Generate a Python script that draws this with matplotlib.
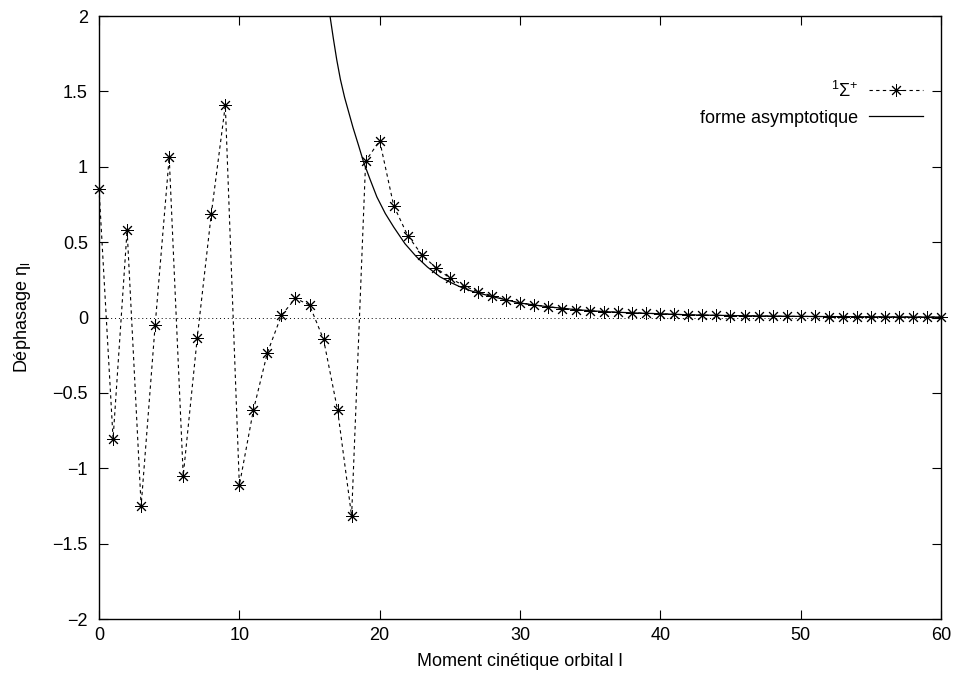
import numpy as np
import matplotlib
matplotlib.use("Agg")
import matplotlib.pyplot as plt

plt.rcParams["font.family"] = ["Liberation Sans", "DejaVu Sans"]
plt.rcParams["mathtext.fontset"] = "custom"
plt.rcParams["mathtext.rm"] = "Liberation Sans"
plt.rcParams["mathtext.it"] = "Liberation Sans"
plt.rcParams["mathtext.sf"] = "Liberation Sans"
plt.rcParams["axes.unicode_minus"] = True

# dephasage, l = 0..60
l_vals = list(range(61))
eta = [0.853, -0.804, 0.581, -1.250, -0.050, 1.063, -1.049, -0.134, 0.687, 1.408,
       -1.113, -0.614, -0.233, 0.015, 0.127, 0.083, -0.145, -0.614, -1.317, 1.038,
       1.173, 0.742, 0.543, 0.417, 0.330, 0.262, 0.211, 0.171, 0.145, 0.118,
       0.096, 0.083, 0.072, 0.059, 0.052, 0.043, 0.039, 0.034, 0.032, 0.028,
       0.025, 0.021, 0.018, 0.016, 0.014, 0.013, 0.011, 0.010, 0.009, 0.008,
       0.0075, 0.0068, 0.0062, 0.0056, 0.0051, 0.0047, 0.0043, 0.0039, 0.0036, 0.0033,
       0.0031]

# forme asymptotique
asym_l = [16.2, 16.46, 16.7, 16.94, 17.2, 17.5, 17.8, 18.1, 18.5, 18.84, 19.3,
          19.8, 20.4, 21.0, 21.8, 22.6, 23.4, 24.3, 25.0, 25.7, 26.4, 27, 28, 29,
          30, 32, 34, 36, 38, 40, 42, 45, 50, 55, 60]
asym_v = [2.15, 2.0, 1.85, 1.71, 1.58, 1.46, 1.36, 1.26, 1.14, 1.035, 0.92,
          0.80, 0.69, 0.60, 0.49, 0.405, 0.335, 0.27, 0.235, 0.205, 0.18, 0.163,
          0.14, 0.117, 0.096, 0.071, 0.052, 0.039, 0.031, 0.025, 0.018,
          0.013, 0.0075, 0.0047, 0.0031]

fig = plt.figure(figsize=(9.55, 6.76), dpi=100)
ax = fig.add_axes([0.1037, 0.0843, 0.8816, 0.892])

ax.axhline(0, color="black", linewidth=0.7, linestyle=(0, (1, 3)))

ax.plot(l_vals, eta, color="black", linewidth=0.8, linestyle=(0, (3, 3)),
        marker=(8, 2, 0), markersize=9, markeredgewidth=0.7,
        label=r"$^{1}\Sigma^{+}$", clip_on=False, zorder=3)
ax.plot(asym_l, asym_v, color="black", linewidth=0.9, label="forme asymptotique")

ax.set_xlim(0, 60)
ax.set_ylim(-2, 2)
ax.set_xticks(np.arange(0, 61, 10))
ax.set_yticks(np.arange(-2, 2.01, 0.5))
ax.set_yticklabels(["\u22122", "\u22121.5", "\u22121", "\u22120.5", "0", "0.5", "1", "1.5", "2"])

ax.tick_params(direction="in", length=6.5, width=0.8, top=True, right=True,
               labelsize=13)
ax.tick_params(axis="x", pad=6)
ax.tick_params(axis="y", pad=8)
for s in ax.spines.values():
    s.set_linewidth(1.0)

ax.set_xlabel("Moment cinétique orbital l", fontsize=13, labelpad=6)
ax.set_ylabel(r"Déphasage $\eta_{\mathrm{l}}$", fontsize=13, labelpad=14)

ax.legend(loc="upper right", bbox_to_anchor=(0.979, 0.893), frameon=False,
          markerfirst=False, numpoints=1, handlelength=3.0, handletextpad=0.6,
          borderpad=0, borderaxespad=0, labelspacing=0.5, fontsize=13)

fig.savefig("out.png", dpi=100)
